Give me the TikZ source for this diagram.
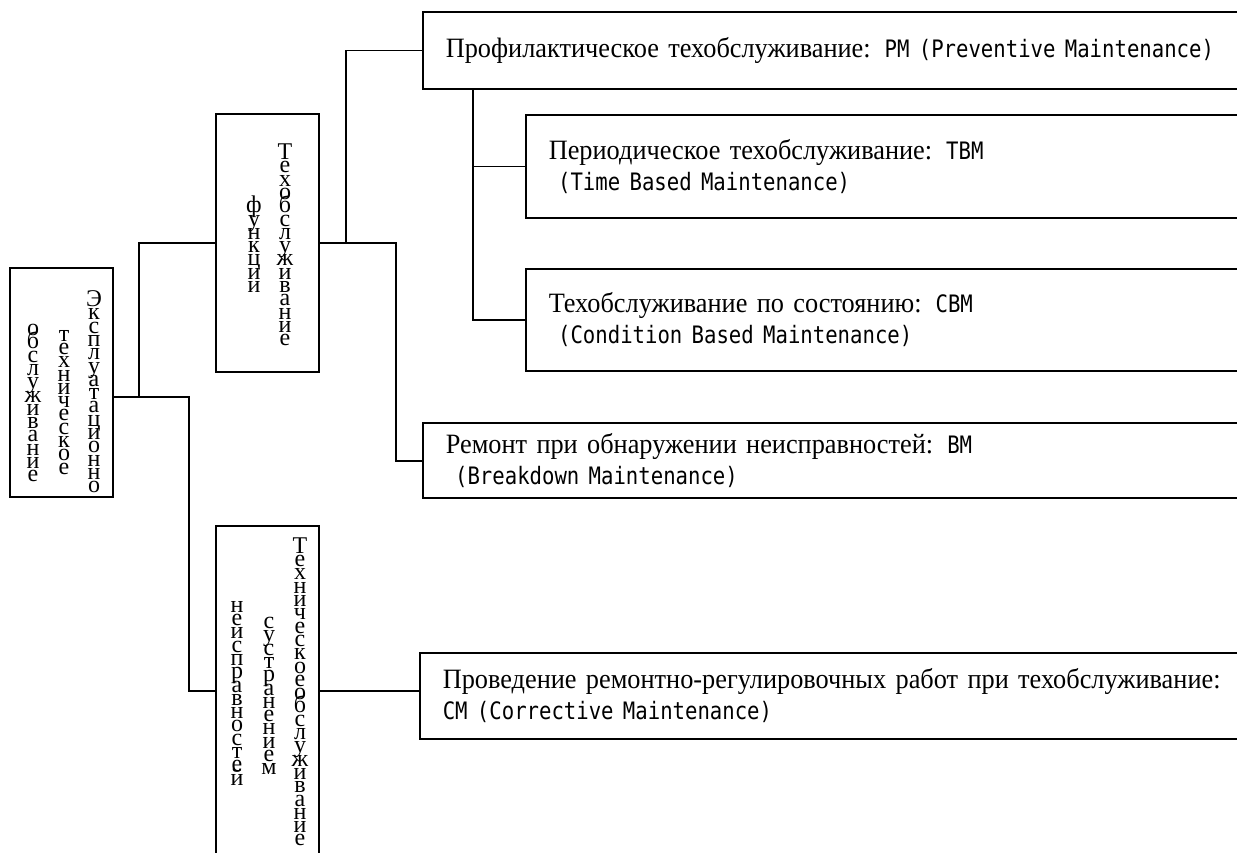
\documentclass[tikz,border=0pt]{standalone}
\usepackage{fontspec}
\setmainfont{Liberation Serif}
\newfontfamily\hser[FakeStretch=0.94]{Liberation Serif}
\newfontfamily\monofam[FakeStretch=0.86]{DejaVu Sans Mono}
\newfontfamily\vser{Liberation Serif}
\newcommand\M[1]{{\monofam\fontsize{24}{31}\selectfont #1}}
\ExplSyntaxOn
\NewDocumentCommand\vcol{m}{
  \vbox{\offinterlineskip
    \tl_map_inline:nn {#1}{\hbox_to_wd:nn{24pt}{\hss\vrule~height~13.3pt~depth~0pt~width~0pt\smash{##1}\hss}}
  }
}
\ExplSyntaxOff
\tikzset{
  conn/.style={line width=1.6pt},
  vbx/.style={draw, line width=1.6pt, rectangle, inner sep=0pt, minimum width=103pt},
  vtxt/.style={inner sep=0pt, font=\vser\fontsize{24}{13.3}\selectfont},
  hbx/.style={draw, line width=1.6pt, rectangle, anchor=north west, inner xsep=23pt, inner ysep=0pt,
    text width=800pt, align=left, font=\hser\fontsize{28}{31}\selectfont}
}
\begin{document}
\begin{tikzpicture}[x=1pt,y=-1pt]
\useasboundingbox (0,0) rectangle (1237,852);
\clip (0,0) rectangle (1237,852);
\fill[white] (0,0) rectangle (1237,852);
% vertical boxes
\node[vbx, minimum height=229pt] (L) at (61.5,382.5) {};
\node[vbx, minimum height=258pt] (F) at (267.5,243) {};
\node[vbx, minimum height=374pt] (C) at (267.5,713) {};
\node[vtxt] (L1) at (94,393) {\vcol{Эксплуатационно}};
\node[vtxt] (L2) at (64,401) {\vcol{техническое}};
\node[vtxt] (L3) at (33,402) {\vcol{обслуживание}};
\node[vtxt] (F1) at (285,246) {\vcol{Техобслуживание}};
\node[vtxt] (F2) at (254,246) {\vcol{функции}};
\node[vtxt] (C1) at (300,693) {\vcol{Техническоеобслуживание}};
\node[vtxt] (C2) at (269,695) {\vcol{сустранением}};
\node[vtxt] (C3) at (237,692) {\vcol{неисправностей}};
% horizontal boxes
\node[hbx, minimum height=77pt] (PM) at (422,11) {Профилактическое техобслуживание: \M{PM (Preventive Maintenance)}};
\node[hbx, minimum height=103pt] (TBM) at (525,114) {Периодическое техобслуживание: \M{TBM}\\\M{\ (Time Based Maintenance)}};
\node[hbx, minimum height=102pt] (CBM) at (525,268) {Техобслуживание по состоянию: \M{CBM}\\\M{\ (Condition Based Maintenance)}};
\node[hbx, minimum height=75pt] (BM) at (422,422) {Ремонт при обнаружении неисправностей: \M{BM}\\\M{\ (Breakdown Maintenance)}};
\node[hbx, minimum height=86pt] (CM) at (419,652) {Проведение ремонтно-регулировочных работ при техобслуживание:\\\M{CM (Corrective Maintenance)}};
% connectors
\coordinate (jLC) at (189,397);
\coordinate (jLF) at (139,397);
\coordinate (jC) at (189,691);
\coordinate (jB) at (396,461);
\coordinate (jP) at (346,243);
\coordinate (jPM) at (473,88);
\draw[conn] (L.east |- jLC) -- (jLC) -- (jC) -- (C.west |- jC);
\draw[conn] (jLF) |- (F.west);
\draw[conn] (F.east) -| (jB) -- (BM.west |- jB);
\draw[conn] (jP) |- (PM.west);
\draw[conn] (jPM) |- (TBM.west);
\draw[conn] (jPM) |- (CBM.west);
\draw[conn] (C.east |- jC) -- (CM.west |- jC);
\end{tikzpicture}
\end{document}
